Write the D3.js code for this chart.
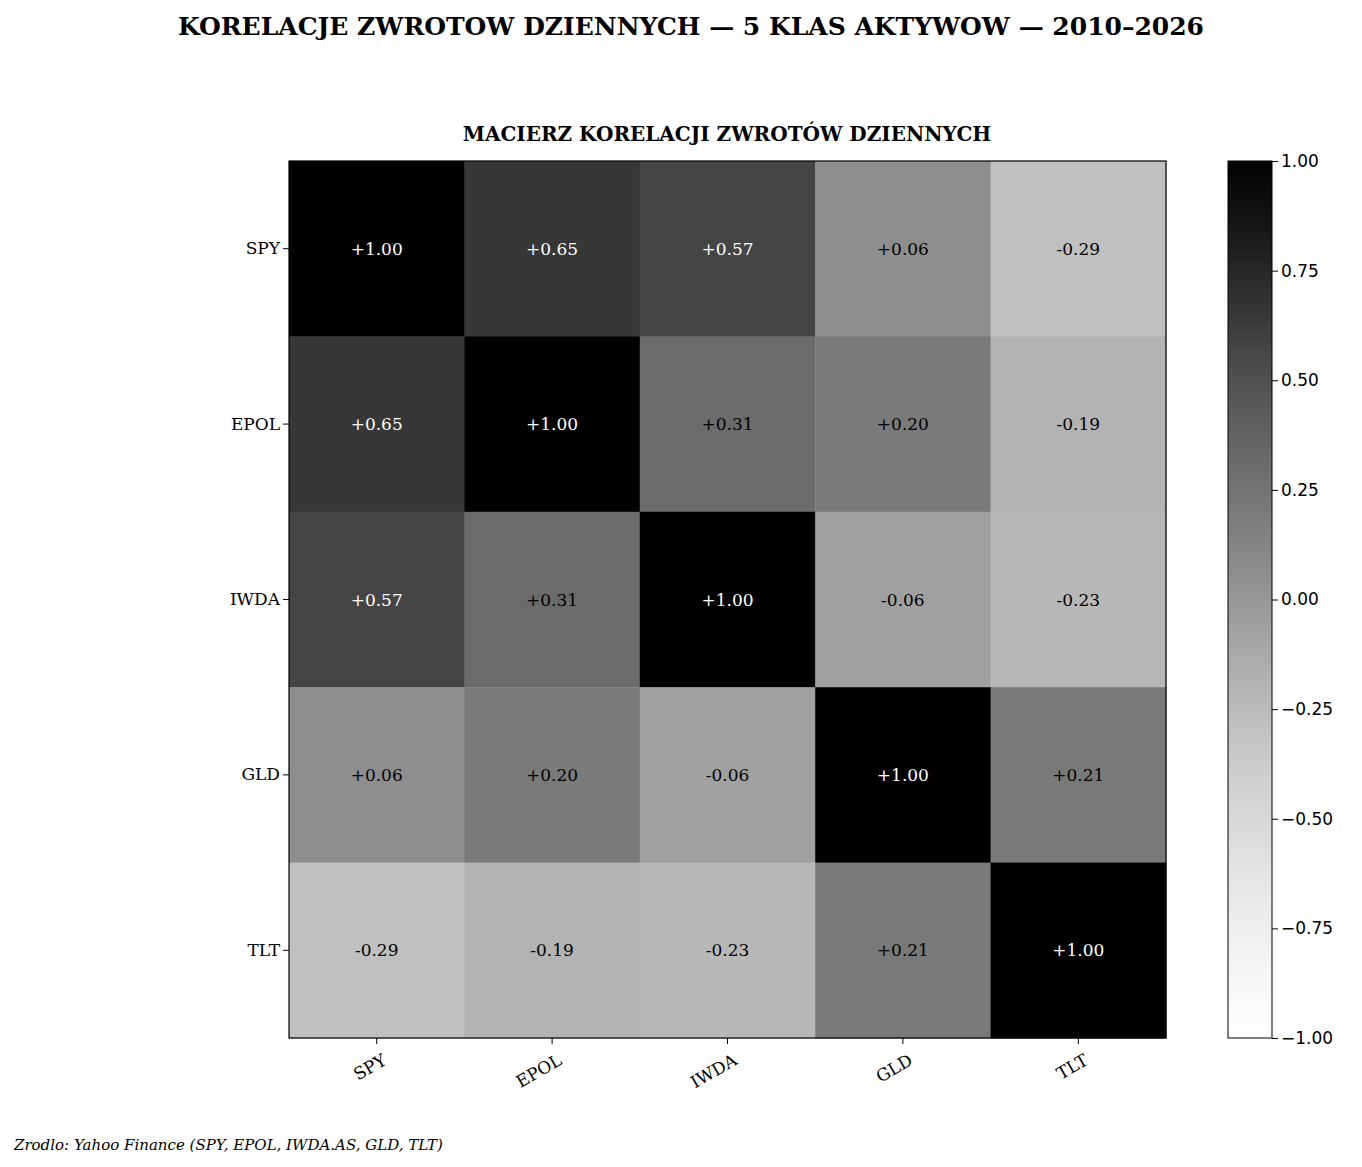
<!DOCTYPE html>
<html><head><meta charset="utf-8">
<script src="https://cdn.jsdelivr.net/npm/d3@7"></script>
<style>body{margin:0;background:#fff}</style></head>
<body><svg id="c" width="1362" height="1167"></svg>
<script>
const assets = ["SPY","EPOL","IWDA","GLD","TLT"];
const corr = [
 [1.00,0.65,0.57,0.06,-0.29],
 [0.65,1.00,0.31,0.20,-0.19],
 [0.57,0.31,1.00,-0.06,-0.23],
 [0.06,0.20,-0.06,1.00,0.21],
 [-0.29,-0.19,-0.23,0.21,1.00]
];
const cbTicks = [1,0.75,0.5,0.25,0,-0.25,-0.5,-0.75,-1];

const svg = d3.select("#c");
const serif = "DejaVu Serif", sans = "DejaVu Sans";
svg.append("text").attr("x",691).attr("y",35).attr("text-anchor","middle")
 .attr("font-family",serif).attr("font-weight","bold").attr("font-size",25)
 .text("KORELACJE ZWROTOW DZIENNYCH — 5 KLAS AKTYWOW — 2010–2026");
svg.append("text").attr("x",727).attr("y",141).attr("text-anchor","middle")
 .attr("font-family",serif).attr("font-weight","bold").attr("font-size",20)
 .text("MACIERZ KORELACJI ZWROTÓW DZIENNYCH");

const x = d3.scaleBand().domain(assets).range([289,1166]);
const y = d3.scaleBand().domain(assets).range([161,1038]);
const color = d3.scaleSequential(d3.interpolateGreys).domain([-1,1]);

const cells=[];
corr.forEach((r,i)=>r.forEach((v,j)=>cells.push({r:assets[i],c:assets[j],v})));
const g=svg.append("g");
g.selectAll("rect").data(cells).join("rect")
 .attr("x",d=>x(d.c)).attr("y",d=>y(d.r)).attr("width",x.bandwidth()+0.5).attr("height",y.bandwidth()+0.5)
 .attr("fill",d=>color(d.v));
g.selectAll("text").data(cells).join("text")
 .attr("x",d=>x(d.c)+x.bandwidth()/2).attr("y",d=>y(d.r)+y.bandwidth()/2+6)
 .attr("text-anchor","middle").attr("font-family",serif).attr("font-size",17)
 .attr("fill",d=>Math.abs(d.v)>0.5?"#fff":"#000")
 .text(d=>(d.v>=0?"+":"")+d.v.toFixed(2).replace("-0","-0"));
svg.append("rect").attr("x",289).attr("y",161).attr("width",877).attr("height",877)
 .attr("fill","none").attr("stroke","#000").attr("stroke-width",1.2);

const xa=svg.append("g").attr("transform","translate(0,1038)").call(d3.axisBottom(x).tickSize(6));
xa.select(".domain").remove();
xa.selectAll("text").attr("font-family",serif).attr("font-size",17).attr("fill","#000")
 .attr("text-anchor","end").attr("transform","rotate(-30)").attr("dx","-0.2em").attr("dy","1.1em");
const ya=svg.append("g").attr("transform","translate(289,0)").call(d3.axisLeft(y).tickSize(6));
ya.select(".domain").remove();
ya.selectAll("text").attr("font-family",serif).attr("font-size",17).attr("fill","#000");

// colorbar
const cy=d3.scaleLinear().domain([-1,1]).range([1038,161]);
const defs=svg.append("defs");
const lg=defs.append("linearGradient").attr("id","gr").attr("x1",0).attr("y1",1).attr("x2",0).attr("y2",0);
d3.range(0,1.0001,0.05).forEach(t=>lg.append("stop").attr("offset",t).attr("stop-color",color(-1+2*t)));
svg.append("rect").attr("x",1228).attr("y",161).attr("width",44).attr("height",877)
 .attr("fill","url(#gr)").attr("stroke","#000").attr("stroke-width",1);
const ca=svg.append("g").attr("transform","translate(1272,0)")
 .call(d3.axisRight(cy).tickValues(cbTicks).tickSize(6).tickFormat(d=>d3.format(".2f")(d).replace("-","−")));
ca.select(".domain").remove();
ca.selectAll("text").attr("font-family",sans).attr("font-size",17).attr("fill","#000");

svg.append("text").attr("x",14).attr("y",1150).attr("font-family",serif).attr("font-style","italic")
 .attr("font-size",15).text("Zrodlo: Yahoo Finance (SPY, EPOL, IWDA.AS, GLD, TLT)");
</script></body></html>
